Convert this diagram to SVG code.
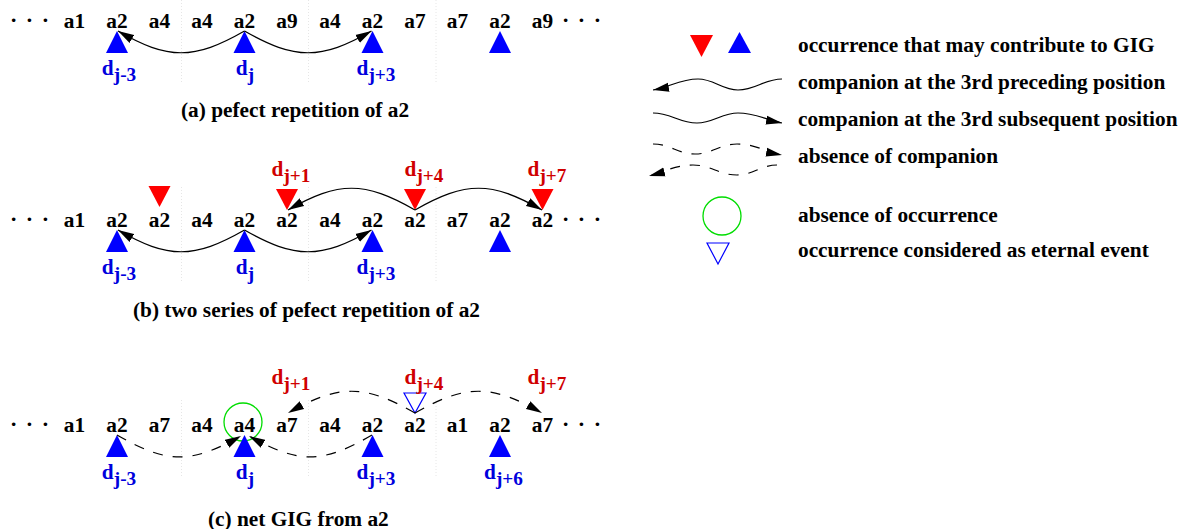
<svg xmlns="http://www.w3.org/2000/svg" width="1181" height="529" viewBox="0 0 1181 529">
<style>
.t{font-family:"Liberation Serif","Times New Roman",serif;font-weight:bold;font-size:20.5px;fill:#000}
.m{text-anchor:middle}
.sub{font-size:18.5px}
.dots{font-size:22px}
.lb{fill:#0000dd}
.lr{fill:#d00000}
.bt{fill:#0000ff;stroke:none}
.rt{fill:#ff0000;stroke:none}
.ht{fill:none;stroke:#0000ff;stroke-width:1.2}
.gc{fill:none;stroke:#00dd00;stroke-width:1.3}
.c{fill:none;stroke:#000;stroke-width:1.2}
.cs{marker-end:url(#ah)}
.d{stroke-dasharray:10 10}
.g{stroke:#e6e6e6;stroke-width:1;stroke-dasharray:1 2}
</style>
<defs>
<marker id="ah" markerUnits="userSpaceOnUse" markerWidth="17" markerHeight="10" viewBox="0 0 17 10" refX="16" refY="5" orient="auto"><path d="M0,0.5 L16,5 L0,9.5 Z" fill="#000"/></marker>
</defs>
<rect width="1181" height="529" fill="#fff"/>

<g id="grid">
<line class="g" x1="181.5" y1="0" x2="181.5" y2="82"/><line class="g" x1="308.5" y1="0" x2="308.5" y2="82"/><line class="g" x1="436" y1="0" x2="436" y2="82"/>
<line class="g" x1="181.5" y1="187" x2="181.5" y2="282"/><line class="g" x1="308.5" y1="187" x2="308.5" y2="282"/><line class="g" x1="436" y1="187" x2="436" y2="282"/>
<line class="g" x1="181.5" y1="400" x2="181.5" y2="478"/><line class="g" x1="308.5" y1="400" x2="308.5" y2="478"/><line class="g" x1="436" y1="400" x2="436" y2="478"/>
</g>

<!-- Row (a) -->
<g id="row-a">
<g id="row-a-sequence">
<text class="t dots" x="10" y="27" textLength="39" lengthAdjust="spacing">· · ·</text>
<text class="t m" transform="translate(74.5 28) scale(1.04 1)">a1</text>
<text class="t m" transform="translate(117 28) scale(1.04 1)">a2</text>
<text class="t m" transform="translate(159.5 28) scale(1.04 1)">a4</text>
<text class="t m" transform="translate(202 28) scale(1.04 1)">a4</text>
<text class="t m" transform="translate(244.5 28) scale(1.04 1)">a2</text>
<text class="t m" transform="translate(287 28) scale(1.04 1)">a9</text>
<text class="t m" transform="translate(330 28) scale(1.04 1)">a4</text>
<text class="t m" transform="translate(372.5 28) scale(1.04 1)">a2</text>
<text class="t m" transform="translate(415 28) scale(1.04 1)">a7</text>
<text class="t m" transform="translate(457.5 28) scale(1.04 1)">a7</text>
<text class="t m" transform="translate(500 28) scale(1.04 1)">a2</text>
<text class="t m" transform="translate(542.5 28) scale(1.04 1)">a9</text>
<text class="t dots" x="562" y="27" textLength="39" lengthAdjust="spacing">· · ·</text>
</g>
<g id="row-a-occ">
<polygon class="bt" points="106,53 128,53 117,31"/>
<polygon class="bt" points="233.5,53 255.5,53 244.5,31"/>
<polygon class="bt" points="361.5,53 383.5,53 372.5,31"/>
<polygon class="bt" points="489,53 511,53 500,31"/>
</g>
<g id="row-a-labels">
<text class="t m lb" transform="translate(119 75) scale(1.04 1)">d<tspan class="sub" dy="6">j-3</tspan></text>
<text class="t m lb" transform="translate(245 75) scale(1.04 1)">d<tspan class="sub" dy="6">j</tspan></text>
<text class="t m lb" transform="translate(376 75) scale(1.04 1)">d<tspan class="sub" dy="6">j+3</tspan></text>
</g>
<text id="caption-a" class="t" transform="translate(181 117) scale(1.04 1)">(a) pefect repetition of a2</text>
</g>

<!-- Row (b) -->
<g id="row-b">
<g id="row-b-sequence">
<text class="t dots" x="10" y="226" textLength="39" lengthAdjust="spacing">· · ·</text>
<text class="t m" transform="translate(74.5 227) scale(1.04 1)">a1</text>
<text class="t m" transform="translate(117 227) scale(1.04 1)">a2</text>
<text class="t m" transform="translate(159.5 227) scale(1.04 1)">a2</text>
<text class="t m" transform="translate(202 227) scale(1.04 1)">a4</text>
<text class="t m" transform="translate(244.5 227) scale(1.04 1)">a2</text>
<text class="t m" transform="translate(287 227) scale(1.04 1)">a2</text>
<text class="t m" transform="translate(330 227) scale(1.04 1)">a4</text>
<text class="t m" transform="translate(372.5 227) scale(1.04 1)">a2</text>
<text class="t m" transform="translate(415 227) scale(1.04 1)">a2</text>
<text class="t m" transform="translate(457.5 227) scale(1.04 1)">a7</text>
<text class="t m" transform="translate(500 227) scale(1.04 1)">a2</text>
<text class="t m" transform="translate(542.5 227) scale(1.04 1)">a2</text>
<text class="t dots" x="562" y="226" textLength="39" lengthAdjust="spacing">· · ·</text>
</g>
<g id="row-b-occ">
<polygon class="bt" points="106,252 128,252 117,230"/>
<polygon class="bt" points="233.5,252 255.5,252 244.5,230"/>
<polygon class="bt" points="361.5,252 383.5,252 372.5,230"/>
<polygon class="bt" points="489,252 511,252 500,230"/>
<polygon class="rt" points="148.5,186 170.5,186 159.5,207"/>
<polygon class="rt" points="276,189 298,189 287,210"/>
<polygon class="rt" points="404,189 426,189 415,210"/>
<polygon class="rt" points="531.5,189 553.5,189 542.5,210"/>
</g>
<g id="row-b-labels">
<text class="t m lb" transform="translate(119 274) scale(1.04 1)">d<tspan class="sub" dy="6">j-3</tspan></text>
<text class="t m lb" transform="translate(245 274) scale(1.04 1)">d<tspan class="sub" dy="6">j</tspan></text>
<text class="t m lb" transform="translate(376 274) scale(1.04 1)">d<tspan class="sub" dy="6">j+3</tspan></text>
<text class="t m lr" transform="translate(291 176) scale(1.04 1)">d<tspan class="sub" dy="6">j+1</tspan></text>
<text class="t m lr" transform="translate(424 176) scale(1.04 1)">d<tspan class="sub" dy="6">j+4</tspan></text>
<text class="t m lr" transform="translate(547 176) scale(1.04 1)">d<tspan class="sub" dy="6">j+7</tspan></text>
</g>
<text id="caption-b" class="t" transform="translate(133 317) scale(1.04 1)">(b) two series of pefect repetition of a2</text>
</g>

<!-- Row (c) -->
<g id="row-c">
<g id="row-c-sequence">
<text class="t dots" x="10" y="431" textLength="39" lengthAdjust="spacing">· · ·</text>
<text class="t m" transform="translate(74.5 432) scale(1.04 1)">a1</text>
<text class="t m" transform="translate(117 432) scale(1.04 1)">a2</text>
<text class="t m" transform="translate(159.5 432) scale(1.04 1)">a7</text>
<text class="t m" transform="translate(202 432) scale(1.04 1)">a4</text>
<text class="t m" transform="translate(244.5 432) scale(1.04 1)">a4</text>
<text class="t m" transform="translate(287 432) scale(1.04 1)">a7</text>
<text class="t m" transform="translate(330 432) scale(1.04 1)">a4</text>
<text class="t m" transform="translate(372.5 432) scale(1.04 1)">a2</text>
<text class="t m" transform="translate(415 432) scale(1.04 1)">a2</text>
<text class="t m" transform="translate(457.5 432) scale(1.04 1)">a1</text>
<text class="t m" transform="translate(500 432) scale(1.04 1)">a2</text>
<text class="t m" transform="translate(542.5 432) scale(1.04 1)">a7</text>
<text class="t dots" x="562" y="431" textLength="39" lengthAdjust="spacing">· · ·</text>
</g>
<g id="row-c-occ">
<circle class="gc" cx="243" cy="422" r="19"/>
<polygon class="bt" points="106,457 128,457 117,435"/>
<polygon class="bt" points="233.5,457 255.5,457 244.5,435"/>
<polygon class="bt" points="361.5,457 383.5,457 372.5,435"/>
<polygon class="bt" points="489,457 511,457 500,435"/>
<polygon class="ht" points="404,393 426,393 415,413"/>
</g>
<g id="row-c-labels">
<text class="t m lb" transform="translate(119 479) scale(1.04 1)">d<tspan class="sub" dy="6">j-3</tspan></text>
<text class="t m lb" transform="translate(245 479) scale(1.04 1)">d<tspan class="sub" dy="6">j</tspan></text>
<text class="t m lb" transform="translate(376 479) scale(1.04 1)">d<tspan class="sub" dy="6">j+3</tspan></text>
<text class="t m lb" transform="translate(503.5 479) scale(1.04 1)">d<tspan class="sub" dy="6">j+6</tspan></text>
<text class="t m lr" transform="translate(291 384) scale(1.04 1)">d<tspan class="sub" dy="6">j+1</tspan></text>
<text class="t m lr" transform="translate(424 384) scale(1.04 1)">d<tspan class="sub" dy="6">j+4</tspan></text>
<text class="t m lr" transform="translate(547 384) scale(1.04 1)">d<tspan class="sub" dy="6">j+7</tspan></text>
</g>
<text id="caption-c" class="t" transform="translate(208 526) scale(1.04 1)">(c) net GIG from a2</text>
</g>

<!-- Connectors -->
<g id="connectors">
<path class="c cs" d="M244.5,31 C194,60 168,60 118,31"/>
<path class="c cs" d="M244.5,31 C295,60 321,60 371.5,31"/>
<path class="c cs" d="M244.5,230 C194,259 168,259 118,230"/>
<path class="c cs" d="M244.5,230 C295,259 321,259 371.5,230"/>
<path class="c cs" d="M415,210 C364,181 339,181 288,210"/>
<path class="c cs" d="M415,210 C466,181 491,181 542,210"/>
<path class="c cs d" d="M117,435 C167,464 191,464 241,436"/>
<path class="c cs d" d="M372,435 C322,464 299,464 249,436"/>
<path class="c cs d" d="M415,413 C364,384 339,384 288,413"/>
<path class="c cs d" d="M415,413 C466,384 491,384 542,413"/>
</g>

<!-- Legend -->
<g id="legend">
<g id="legend-occurrence">
<polygon class="rt" points="690,35 713,35 701.5,57"/>
<polygon class="bt" points="728,53 751,53 739.5,32"/>
<text class="t" transform="translate(798 52) scale(1.04 1)">occurrence that may contribute to GIG</text>
</g>
<g id="legend-preceding">
<path class="c cs" d="M782,79 C764,79 756,90 738,90 C722,90 714,79 698,79 C680,79 670,87 653,90"/>
<text class="t" transform="translate(798 89) scale(1.04 1)">companion at the 3rd preceding position</text>
</g>
<g id="legend-subsequent">
<path class="c cs" d="M653,113 C671,113 679,123 697,123 C713,123 722,113 738,113 C756,113 766,120 782,123"/>
<text class="t" transform="translate(798 126) scale(1.04 1)">companion at the 3rd subsequent position</text>
</g>
<g id="legend-absence-companion">
<path class="c cs d" d="M653,144 C670,144 678,154 695,154 C712,154 720,144 737,144 C755,144 766,152 782,155"/>
<path class="c cs d" d="M777,165 C761,165 753,175 737,175 C719,175 711,165 693,165 C675,165 664,172 649,176"/>
<text class="t" transform="translate(798 163) scale(1.04 1)">absence of companion</text>
</g>
<g id="legend-absence-occurrence">
<circle class="gc" cx="722" cy="216" r="19"/>
<text class="t" transform="translate(798 222) scale(1.04 1)">absence of occurrence</text>
</g>
<g id="legend-eternal">
<polygon class="ht" points="707,243 729,243 718,264"/>
<text class="t" transform="translate(798 257) scale(1.04 1)">occurrence considered as eternal event</text>
</g>
</g>
</svg>
